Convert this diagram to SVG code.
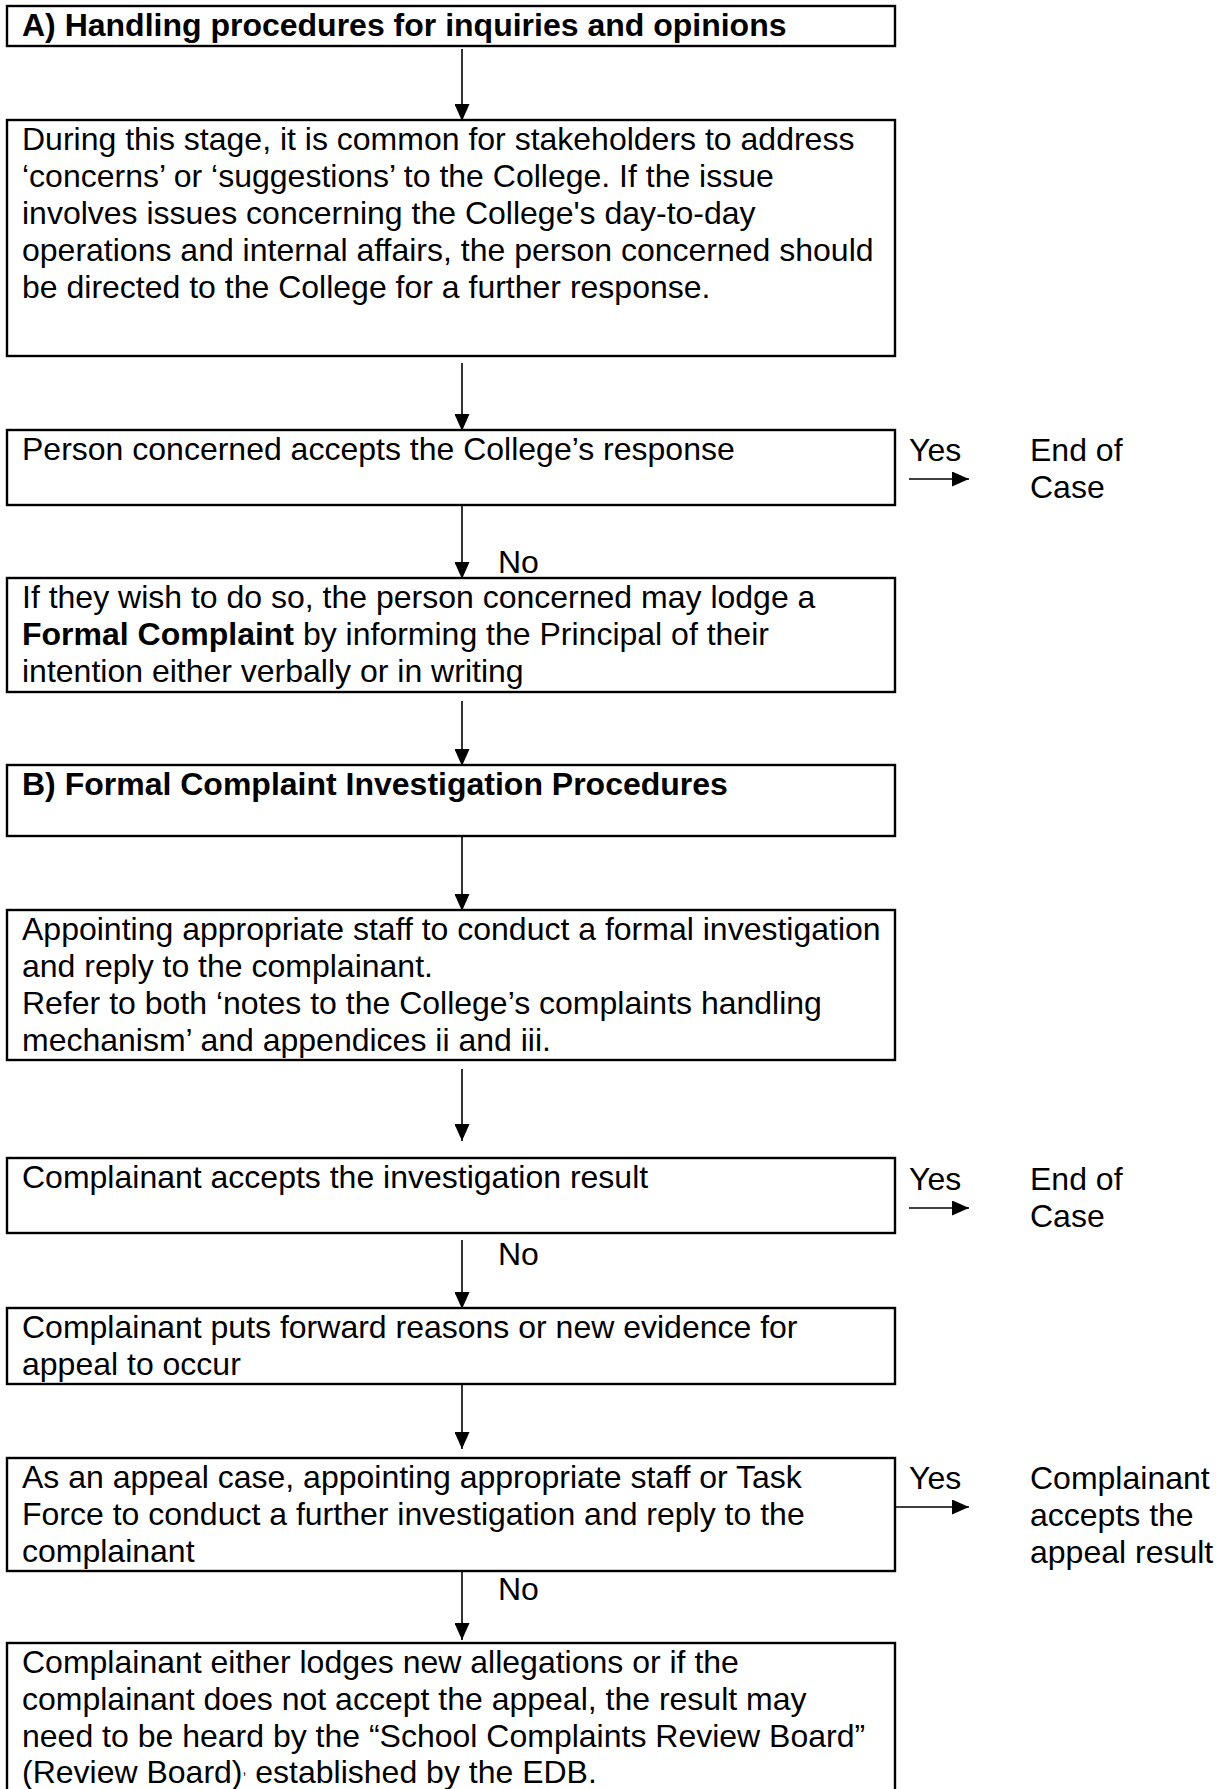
<svg xmlns="http://www.w3.org/2000/svg" width="1224" height="1789" viewBox="0 0 1224 1789">
<style>
.box{fill:#fff;stroke:#000;stroke-width:2.4}
.t{font-family:"Liberation Sans",Arial,Helvetica,sans-serif;font-size:32px;fill:#000}
.b{font-weight:bold}
.conn line{stroke:#000;stroke-width:1.6}
</style>
<defs>
<marker id="ah" viewBox="0 0 17 15" refX="17" refY="7.5" markerWidth="17" markerHeight="15" markerUnits="userSpaceOnUse" orient="auto"><path d="M0,0 L17,7.5 L0,15 z" fill="#000"/></marker>
</defs>
<rect width="1224" height="1789" fill="#fff"/>
<g id="nodeA">
<rect class="box" x="7" y="6" width="888" height="40"/>
<text class="t b" x="22" y="36">A) Handling procedures for inquiries and opinions</text>
</g>
<g id="node2">
<rect class="box" x="7" y="120" width="888" height="236"/>
<text class="t" x="22" y="150">During this stage, it is common for stakeholders to address</text>
<text class="t" x="22" y="187">‘concerns’ or ‘suggestions’ to the College. If the issue</text>
<text class="t" x="22" y="224">involves issues concerning the College's day-to-day</text>
<text class="t" x="22" y="261">operations and internal affairs, the person concerned should</text>
<text class="t" x="22" y="298">be directed to the College for a further response.</text>
</g>
<g id="node3">
<rect class="box" x="7" y="430" width="888" height="75"/>
<text class="t" x="22" y="460">Person concerned accepts the College’s response</text>
</g>
<g id="end1">
<text class="t" x="1030" y="461">End of</text>
<text class="t" x="1030" y="498">Case</text>
</g>
<g id="node4">
<rect class="box" x="7" y="578" width="888" height="114"/>
<text class="t" x="22" y="608">If they wish to do so, the person concerned may lodge a</text>
<text class="t" x="22" y="645"><tspan class="b">Formal Complaint</tspan> by informing the Principal of their</text>
<text class="t" x="22" y="682">intention either verbally or in writing</text>
</g>
<g id="nodeB">
<rect class="box" x="7" y="765" width="888" height="71"/>
<text class="t b" x="22" y="795">B) Formal Complaint Investigation Procedures</text>
</g>
<g id="node6">
<rect class="box" x="7" y="910" width="888" height="150"/>
<text class="t" x="22" y="940">Appointing appropriate staff to conduct a formal investigation</text>
<text class="t" x="22" y="977">and reply to the complainant.</text>
<text class="t" x="22" y="1014">Refer to both ‘notes to the College’s complaints handling</text>
<text class="t" x="22" y="1051">mechanism’ and appendices ii and iii.</text>
</g>
<g id="node7">
<rect class="box" x="7" y="1158" width="888" height="75"/>
<text class="t" x="22" y="1188">Complainant accepts the investigation result</text>
</g>
<g id="end2">
<text class="t" x="1030" y="1190">End of</text>
<text class="t" x="1030" y="1227">Case</text>
</g>
<g id="node8">
<rect class="box" x="7" y="1308" width="888" height="76"/>
<text class="t" x="22" y="1338">Complainant puts forward reasons or new evidence for</text>
<text class="t" x="22" y="1375">appeal to occur</text>
</g>
<g id="node9">
<rect class="box" x="7" y="1458" width="888" height="113"/>
<text class="t" x="22" y="1488">As an appeal case, appointing appropriate staff or Task</text>
<text class="t" x="22" y="1525">Force to conduct a further investigation and reply to the</text>
<text class="t" x="22" y="1562">complainant</text>
</g>
<g id="end3">
<text class="t" x="1030" y="1489">Complainant</text>
<text class="t" x="1030" y="1526">accepts the</text>
<text class="t" x="1030" y="1563">appeal result</text>
</g>
<g id="node10">
<rect class="box" x="7" y="1643" width="888" height="170"/>
<text class="t" x="22" y="1673">Complainant either lodges new allegations or if the</text>
<text class="t" x="22" y="1710">complainant does not accept the appeal, the result may</text>
<text class="t" x="22" y="1747">need to be heard by the “School Complaints Review Board”</text>
<text class="t" x="22" y="1783">(Review Board)<tspan font-size="14" dy="-9">,</tspan><tspan dy="9"> established by the EDB.</tspan></text>
</g>
<g id="connectors" class="conn">
<line x1="462" y1="49" x2="462" y2="121" marker-end="url(#ah)"/>
<line x1="462" y1="363" x2="462" y2="431" marker-end="url(#ah)"/>
<line x1="462" y1="505" x2="462" y2="579" marker-end="url(#ah)"/>
<line x1="462" y1="701" x2="462" y2="766" marker-end="url(#ah)"/>
<line x1="462" y1="836" x2="462" y2="911" marker-end="url(#ah)"/>
<line x1="462" y1="1069" x2="462" y2="1141" marker-end="url(#ah)"/>
<line x1="462" y1="1240" x2="462" y2="1309" marker-end="url(#ah)"/>
<line x1="462" y1="1384" x2="462" y2="1449" marker-end="url(#ah)"/>
<line x1="462" y1="1571" x2="462" y2="1640" marker-end="url(#ah)"/>
<line x1="909" y1="479" x2="969" y2="479" marker-end="url(#ah)"/>
<line x1="909" y1="1208" x2="969" y2="1208" marker-end="url(#ah)"/>
<line x1="895" y1="1507" x2="969" y2="1507" marker-end="url(#ah)"/>
<text class="t" x="909" y="461">Yes</text>
<text class="t" x="498" y="573">No</text>
<text class="t" x="909" y="1190">Yes</text>
<text class="t" x="498" y="1265">No</text>
<text class="t" x="909" y="1489">Yes</text>
<text class="t" x="498" y="1600">No</text>
</g>
</svg>
